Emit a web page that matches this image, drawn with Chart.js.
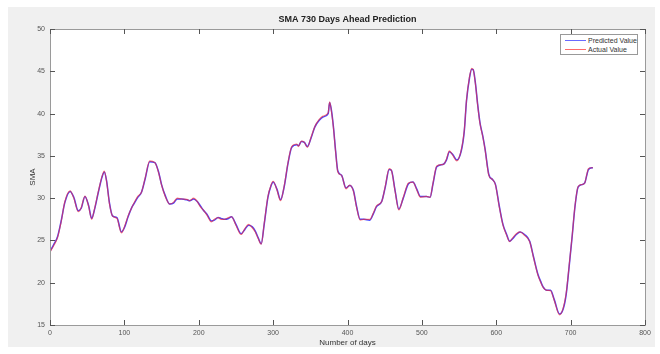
<!DOCTYPE html>
<html>
<head>
<meta charset="utf-8">
<script src="https://cdn.jsdelivr.net/npm/chart.js@4/dist/chart.umd.min.js"></script>
<style>
body { margin:0; background:#fff; }
#wrap { position:relative; width:660px; height:354px; }
#legendBox { position:absolute; left:560px; top:34px; width:76px; height:19px; border:1px solid #999; background:#fff;
  font-family:"Liberation Sans", Arial, sans-serif; font-size:7px; color:#333; }
.row { position:absolute; left:0; height:9px; line-height:9px; }
.row span.ln { position:absolute; left:4px; top:4px; width:21px; height:1px; }
.row span.tx { position:absolute; left:27px; top:0; white-space:nowrap; color:#333; }
</style>
</head>
<body>
<div id="wrap">
<canvas id="smaChart" width="660" height="354"></canvas>
<div id="legendBox">
  <div class="row" style="top:1px"><span class="ln" style="background:#6a6aff"></span><span class="tx">Predicted Value</span></div>
  <div class="row" style="top:10px"><span class="ln" style="background:#ff6a6a"></span><span class="tx">Actual Value</span></div>
</div>
</div>
<script>
// 읽어낸 값 (day, SMA)
var days = [0,5,10,15,20,27,32,38,42,47,52,56,60,65,70,73,76,80,84,90,96,100,105,110,114,118,123,128,134,141,
  146,150,155,161,166,171,177,184,188,193,198,202,206,211,217,221,226,230,235,240,244,250,257,262,267,272,276,280,284,288,
  293,297,300,305,310,315,320,325,332,334,338,342,346,351,356,362,367,374,376,378,381,384,387,392,398,403,408,412,417,422,
  430,435,439,446,451,456,459,464,469,475,482,488,493,498,506,511,515,520,529,533,537,542,547,553,557,560,564,567,569,572,
  575,578,582,585,590,595,599,604,609,614,618,622,627,632,638,645,650,656,660,663,668,673,678,685,690,694,698,702,706,710,
  715,719,722,724,730];

var actualValues = [23.6,24.4,25.3,27.2,29.6,30.85,30.0,28.4,28.9,30.25,29.0,27.5,28.8,30.8,32.6,33.2,32.0,29.3,27.9,27.6,
  25.9,26.6,27.9,28.9,29.6,30.2,30.7,32.4,34.4,34.2,33.0,31.55,30.2,29.3,29.5,30.0,29.9,29.85,29.7,30.0,
  29.6,29.0,28.6,28.0,27.2,27.5,27.7,27.5,27.5,27.7,27.8,26.8,25.7,26.4,26.9,26.5,26.0,25.2,24.55,27.0,
  30.2,31.5,32.0,31.0,29.7,31.5,34.2,36.1,36.4,36.1,36.75,36.6,36.0,37.2,38.45,39.3,39.7,40.1,41.4,40.5,
  38.4,35.5,33.1,32.7,31.1,31.55,30.8,29.0,27.4,27.5,27.5,28.3,29.1,29.6,31.5,33.5,33.3,30.8,28.6,30.1,
  31.8,31.9,31.0,30.1,30.2,30.1,31.8,33.8,34.0,34.6,35.6,35.0,34.4,35.7,38.0,41.6,44.3,45.35,45.2,43.5,
  41.0,38.9,37.2,35.7,32.7,32.2,31.55,29.0,26.8,25.6,24.85,25.3,25.8,26.0,25.6,24.85,23.0,20.9,20.0,19.45,
  19.1,19.05,17.9,16.2,17.0,18.75,22.0,25.5,29.2,31.35,31.6,31.8,32.9,33.5,33.6];

var predictedValues = [23.7,24.5,25.4,27.3,29.5,30.8,30.1,28.5,28.8,30.2,29.1,27.6,28.7,30.7,32.5,33.1,32.1,29.4,27.9,27.7,
  26.0,26.5,27.8,28.9,29.5,30.1,30.7,32.3,34.3,34.2,33.1,31.6,30.3,29.3,29.4,29.9,29.9,29.8,29.7,29.9,
  29.6,29.1,28.6,28.1,27.3,27.4,27.7,27.6,27.5,27.6,27.8,26.9,25.8,26.3,26.8,26.6,26.1,25.3,24.6,26.9,
  30.1,31.4,31.9,31.1,29.8,31.4,34.1,36.0,36.3,36.2,36.7,36.6,36.1,37.1,38.4,39.2,39.6,40.0,41.3,40.6,
  38.5,35.6,33.2,32.7,31.2,31.5,30.9,29.1,27.5,27.5,27.4,28.2,29.0,29.6,31.4,33.4,33.3,30.9,28.7,30.0,
  31.7,31.9,31.1,30.2,30.2,30.1,31.7,33.7,34.0,34.5,35.5,35.1,34.5,35.6,37.9,41.5,44.2,45.25,45.2,43.6,
  41.1,39.0,37.3,35.8,32.8,32.2,31.6,29.1,26.9,25.7,24.9,25.2,25.7,26.0,25.7,24.9,23.1,21.0,20.1,19.5,
  19.1,19.1,18.0,16.3,16.9,18.6,21.9,25.4,29.1,31.3,31.6,31.8,32.8,33.4,33.6];

var xTicks = [0,100,200,300,400,500,600,700,800];
var yTicks = [15,20,25,30,35,40,45,50];

function toPoints(xs, ys) {
	var out = [];
	for (var i = 0; i < xs.length; i++) out.push({x: xs[i], y: ys[i]});
	return out;
}

var fontFam = '"Liberation Sans", Arial, sans-serif';

// 배경 + 안쪽 눈금 (MATLAB 스타일)
var frame = {
	id: 'frame',
	beforeDraw: function(chart) {
		var c = chart.ctx, a = chart.chartArea;
		c.save();
		c.fillStyle = '#ffffff';
		c.fillRect(0, 0, chart.width, chart.height);
		c.fillStyle = '#f0f0f0';
		c.fillRect(8, 7, 647, 340);
		c.fillStyle = '#ffffff';
		c.fillRect(a.left, a.top, a.right - a.left, a.bottom - a.top);
		c.restore();
	},
	afterDraw: function(chart) {
		var c = chart.ctx, a = chart.chartArea;
		var xs = chart.scales.x, ys = chart.scales.y;
		c.save();
		c.strokeStyle = '#9a9a9a';
		c.lineWidth = 1;
		c.strokeRect(a.left + 0.5, a.top + 0.5, a.right - a.left, a.bottom - a.top);
		c.strokeStyle = '#555';
		c.beginPath();
		xTicks.forEach(function(v) {
			var px = Math.round(xs.getPixelForValue(v)) + 0.5;
			c.moveTo(px, a.bottom); c.lineTo(px, a.bottom - 5);
			c.moveTo(px, a.top); c.lineTo(px, a.top + 5);
		});
		yTicks.forEach(function(v) {
			var py = Math.round(ys.getPixelForValue(v)) + 0.5;
			c.moveTo(a.left, py); c.lineTo(a.left + 5, py);
			c.moveTo(a.right, py); c.lineTo(a.right - 5, py);
		});
		c.stroke();
		c.restore();
	}
};

var ctx = document.getElementById('smaChart').getContext('2d');
var smaChart = new Chart(ctx, {
	type: 'line',
	data: {
		datasets: [{
			label: 'Predicted Value',
			data: toPoints(days, predictedValues),
			borderColor: 'rgba(50,50,255,0.9)',
			borderWidth: 1.5,
			pointRadius: 0,
			order: 1,
			cubicInterpolationMode: 'monotone',
			fill: false
		}, {
			label: 'Actual Value',
			data: toPoints(days, actualValues),
			borderColor: 'rgba(255,40,40,0.6)',
			borderWidth: 1.2,
			pointRadius: 0,
			order: 0,
			cubicInterpolationMode: 'monotone',
			fill: false
		}]
	},
	options: {
		responsive: false,
		animation: false,
		layout: { padding: { left: 0, right: 15, top: 0, bottom: 0 } },
		plugins: {
			legend: { display: false },
			tooltip: { enabled: false },
			title: {
				display: true,
				text: 'SMA 730 Days Ahead Prediction',
				fullSize: false,
				color: '#222',
				font: { family: fontFam, size: 9, weight: 'bold' },
				padding: { top: 14.5, bottom: 3.7 }
			}
		},
		scales: {
			x: {
				type: 'linear',
				min: 0, max: 800,
				afterBuildTicks: function(s) { s.ticks = xTicks.map(function(v){ return {value: v}; }); },
				afterFit: function(s) { s.height = 29; },
				grid: { display: false, drawTicks: false },
				border: { display: false },
				ticks: { color: '#555', padding: 4, font: { family: fontFam, size: 7 }, maxRotation: 0 },
				title: { display: true, text: 'Number of days', color: '#333',
					font: { family: fontFam, size: 8 }, padding: { top: 0, bottom: 6 } }
			},
			y: {
				min: 15, max: 50,
				afterBuildTicks: function(s) { s.ticks = yTicks.map(function(v){ return {value: v}; }); },
				afterFit: function(s) { s.width = 50; },
				grid: { display: false, drawTicks: false },
				border: { display: false },
				ticks: { color: '#555', padding: 5, font: { family: fontFam, size: 7 } },
				title: { display: true, text: 'SMA', color: '#333',
					font: { family: fontFam, size: 8 }, padding: { top: 28, bottom: 0 } }
			}
		}
	},
	plugins: [frame]
});
</script>
</body>
</html>
